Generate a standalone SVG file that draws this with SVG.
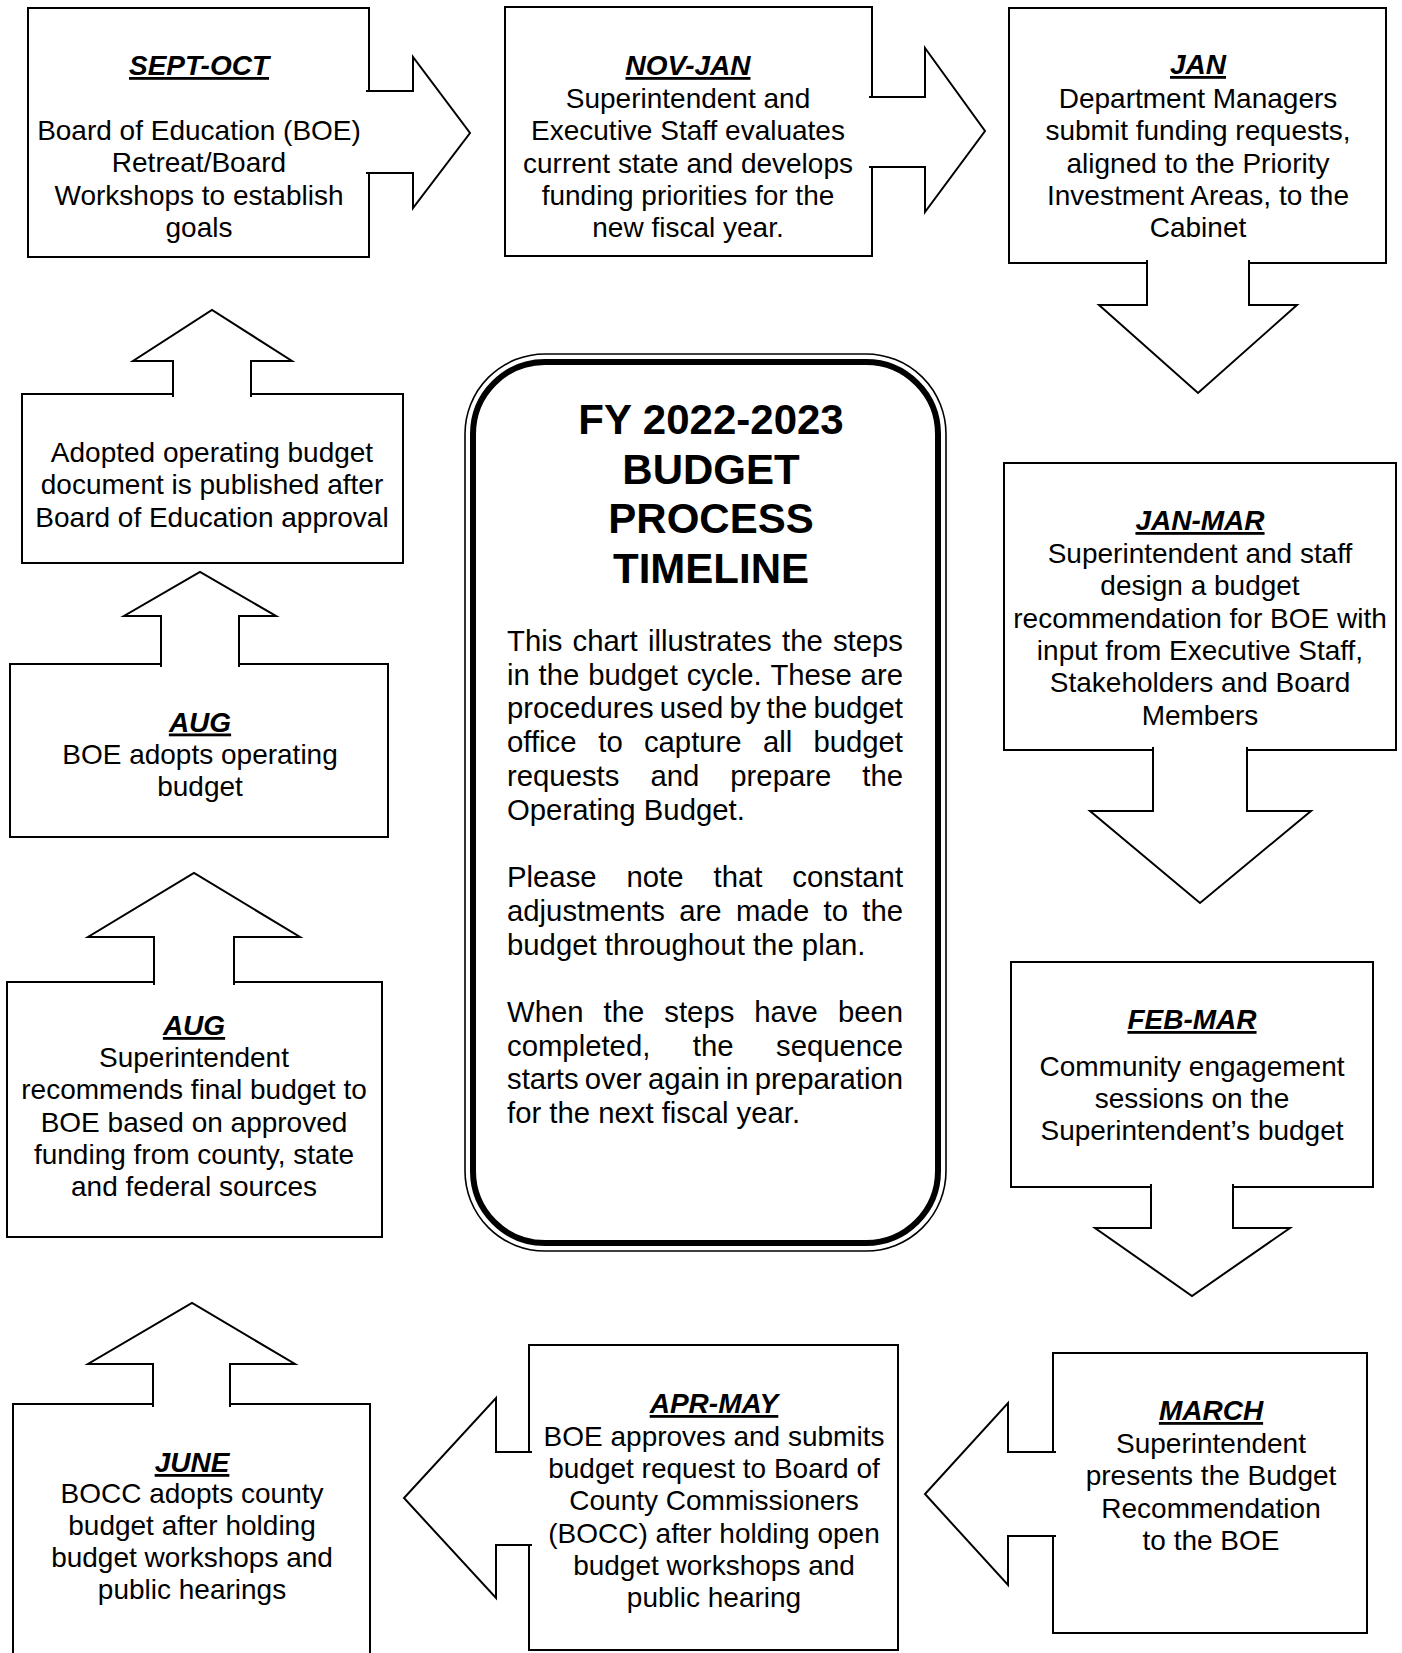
<svg xmlns="http://www.w3.org/2000/svg" width="1402" height="1653" viewBox="0 0 1402 1653">
<style>
.box{fill:#fff;stroke:#000;stroke-width:2}
.arr{fill:#fff;stroke:#000;stroke-width:2;stroke-linejoin:miter}
.t{font-family:"Liberation Sans",Arial,Helvetica,sans-serif;font-size:28px;fill:#000;text-anchor:middle}
.h{font-weight:bold;font-style:italic;text-decoration:underline}
.title{font-family:"Liberation Sans",Arial,Helvetica,sans-serif;font-size:42px;font-weight:bold;fill:#000;text-anchor:middle}
.body{font-family:"Liberation Sans",Arial,Helvetica,sans-serif;font-size:29.3px;fill:#000}
</style>
<rect width="1402" height="1653" fill="#fff"/>

<g id="n-sept-oct">
<rect class="box" x="28" y="8" width="341" height="249"/>
<text class="t"><tspan class="h" x="199" y="75">SEPT-OCT</tspan><tspan x="199" y="140">Board of Education (BOE)</tspan><tspan x="199" y="172.3">Retreat/Board</tspan><tspan x="199" y="204.6">Workshops to establish</tspan><tspan x="199" y="237">goals</tspan></text>
</g>

<g id="n-nov-jan">
<rect class="box" x="505" y="7" width="367" height="249"/>
<text class="t"><tspan class="h" x="688" y="75">NOV-JAN</tspan><tspan x="688" y="108">Superintendent and</tspan><tspan x="688" y="140.3">Executive Staff evaluates</tspan><tspan x="688" y="172.6">current state and develops</tspan><tspan x="688" y="204.9">funding priorities for the</tspan><tspan x="688" y="237">new fiscal year.</tspan></text>
</g>

<g id="n-jan">
<rect class="box" x="1009" y="8" width="377" height="255"/>
<text class="t"><tspan class="h" x="1198" y="74">JAN</tspan><tspan x="1198" y="108">Department Managers</tspan><tspan x="1198" y="140.3">submit funding requests,</tspan><tspan x="1198" y="172.6">aligned to the Priority</tspan><tspan x="1198" y="204.9">Investment Areas, to the</tspan><tspan x="1198" y="237">Cabinet</tspan></text>
</g>

<g id="n-jan-mar">
<rect class="box" x="1004" y="463" width="392" height="287"/>
<text class="t"><tspan class="h" x="1200" y="530">JAN-MAR</tspan><tspan x="1200" y="563">Superintendent and staff</tspan><tspan x="1200" y="595.3">design a budget</tspan><tspan x="1200" y="627.6">recommendation for BOE with</tspan><tspan x="1200" y="659.9">input from Executive Staff,</tspan><tspan x="1200" y="692.2">Stakeholders and Board</tspan><tspan x="1200" y="724.5">Members</tspan></text>
</g>

<g id="n-feb-mar">
<rect class="box" x="1011" y="962" width="362" height="225"/>
<text class="t"><tspan class="h" x="1192" y="1029">FEB-MAR</tspan><tspan x="1192" y="1076">Community engagement</tspan><tspan x="1192" y="1108">sessions on the</tspan><tspan x="1192" y="1140">Superintendent’s budget</tspan></text>
</g>

<g id="n-march">
<rect class="box" x="1053" y="1353" width="314" height="280"/>
<text class="t"><tspan class="h" x="1211" y="1420">MARCH</tspan><tspan x="1211" y="1453">Superintendent</tspan><tspan x="1211" y="1485.4">presents the Budget</tspan><tspan x="1211" y="1517.8">Recommendation</tspan><tspan x="1211" y="1550.2">to the BOE</tspan></text>
</g>

<g id="n-apr-may">
<rect class="box" x="529" y="1345" width="369" height="305"/>
<text class="t"><tspan class="h" x="714" y="1413">APR-MAY</tspan><tspan x="714" y="1446">BOE approves and submits</tspan><tspan x="714" y="1478.2">budget request to Board of</tspan><tspan x="714" y="1510.4">County Commissioners</tspan><tspan x="714" y="1542.6">(BOCC) after holding open</tspan><tspan x="714" y="1574.8">budget workshops and</tspan><tspan x="714" y="1607">public hearing</tspan></text>
</g>

<g id="n-june">
<rect class="box" x="13" y="1404" width="357" height="260"/>
<text class="t"><tspan class="h" x="192" y="1472">JUNE</tspan><tspan x="192" y="1503">BOCC adopts county</tspan><tspan x="192" y="1535">budget after holding</tspan><tspan x="192" y="1567">budget workshops and</tspan><tspan x="192" y="1599">public hearings</tspan></text>
</g>

<g id="n-aug-recommend">
<rect class="box" x="7" y="982" width="375" height="255"/>
<text class="t"><tspan class="h" x="194" y="1035">AUG</tspan><tspan x="194" y="1067">Superintendent</tspan><tspan x="194" y="1099.3">recommends final budget to</tspan><tspan x="194" y="1131.6">BOE based on approved</tspan><tspan x="194" y="1163.9">funding from county, state</tspan><tspan x="194" y="1196.2">and federal sources</tspan></text>
</g>

<g id="n-aug-adopt">
<rect class="box" x="10" y="664" width="378" height="173"/>
<text class="t"><tspan class="h" x="200" y="731.5">AUG</tspan><tspan x="200" y="763.5">BOE adopts operating</tspan><tspan x="200" y="795.5">budget</tspan></text>
</g>

<g id="n-published">
<rect class="box" x="22" y="394" width="381" height="169"/>
<text class="t"><tspan x="212" y="462">Adopted operating budget</tspan><tspan x="212" y="494.3">document is published after</tspan><tspan x="212" y="526.6">Board of Education approval</tspan></text>
</g>

<g id="n-center">
<rect x="465" y="354" width="481" height="897" rx="80" ry="80" fill="#fff" stroke="#000" stroke-width="1.6"/>
<rect x="473" y="362" width="465" height="881" rx="72" ry="72" fill="none" stroke="#000" stroke-width="6"/>
<text class="title"><tspan x="711" y="434">FY 2022-2023</tspan><tspan x="711" y="484">BUDGET</tspan><tspan x="711" y="533">PROCESS</tspan><tspan x="711" y="583">TIMELINE</tspan></text>
<text class="body">
<tspan x="507" y="651">This</tspan><tspan x="572.6" y="651">chart</tspan><tspan x="648" y="651">illustrates</tspan><tspan x="782" y="651">the</tspan><tspan x="832.9" y="651">steps</tspan>
<tspan x="507" y="685">in</tspan><tspan x="538.6" y="685">the</tspan><tspan x="588.2" y="685">budget</tspan><tspan x="686.7" y="685">cycle.</tspan><tspan x="770.4" y="685">These</tspan><tspan x="860.6" y="685">are</tspan>
<tspan x="507" y="718">procedures</tspan><tspan x="659.7" y="718">used</tspan><tspan x="729.4" y="718">by</tspan><tspan x="766.5" y="718">the</tspan><tspan x="813.4" y="718">budget</tspan>
<tspan x="507" y="752">office</tspan><tspan x="598.3" y="752">to</tspan><tspan x="643.9" y="752">capture</tspan><tspan x="762.9" y="752">all</tspan><tspan x="813.4" y="752">budget</tspan>
<tspan x="507" y="786">requests</tspan><tspan x="650.4" y="786">and</tspan><tspan x="730.3" y="786">prepare</tspan><tspan x="862.3" y="786">the</tspan>
<tspan x="507" y="820">Operating Budget.</tspan>
<tspan x="507" y="887">Please</tspan><tspan x="626.5" y="887">note</tspan><tspan x="713.5" y="887">that</tspan><tspan x="792.3" y="887">constant</tspan>
<tspan x="507" y="921">adjustments</tspan><tspan x="679.3" y="921">are</tspan><tspan x="735.9" y="921">made</tspan><tspan x="823.5" y="921">to</tspan><tspan x="862.3" y="921">the</tspan>
<tspan x="507" y="955">budget throughout the plan.</tspan>
<tspan x="507" y="1022">When</tspan><tspan x="603.5" y="1022">the</tspan><tspan x="664.3" y="1022">steps</tspan><tspan x="754.3" y="1022">have</tspan><tspan x="837.9" y="1022">been</tspan>
<tspan x="507" y="1056">completed,</tspan><tspan x="692.8" y="1056">the</tspan><tspan x="776" y="1056">sequence</tspan>
<tspan x="507" y="1089">starts</tspan><tspan x="584.8" y="1089">over</tspan><tspan x="648" y="1089">again</tspan><tspan x="725.8" y="1089">in</tspan><tspan x="754.8" y="1089">preparation</tspan>
<tspan x="507" y="1123">for the next fiscal year.</tspan>
</text>
</g>

<g id="connectors">
<path class="arr" d="M366,91 H413 V57 L470,133 L413,208 V173 H366"/>
<path class="arr" d="M869,97 H925 V48 L985,131 L925,212 V167 H869"/>
<path class="arr" d="M1147,260 V305 H1099 L1198,393 L1297,305 H1249 V260"/>
<path class="arr" d="M1153,747 V811 H1090 L1200,903 L1311,811 H1247 V747"/>
<path class="arr" d="M1151,1184 V1228 H1095 L1192,1296 L1290,1228 H1233 V1184"/>
<path class="arr" d="M1056,1452 H1008 V1403 L925,1494 L1008,1585 V1536 H1056"/>
<path class="arr" d="M532,1452 H496 V1398 L404,1498 L496,1598 V1545 H532"/>
<path class="arr" d="M153,1407 V1364 H88 L192,1303 L295,1364 H230 V1407"/>
<path class="arr" d="M154,985 V937 H88 L194,873 L300,937 H234 V985"/>
<path class="arr" d="M161,667 V616 H124 L200,572 L276,616 H239 V667"/>
<path class="arr" d="M173,397 V361 H133 L212,310 L292,361 H251 V397"/>
</g>
</svg>
